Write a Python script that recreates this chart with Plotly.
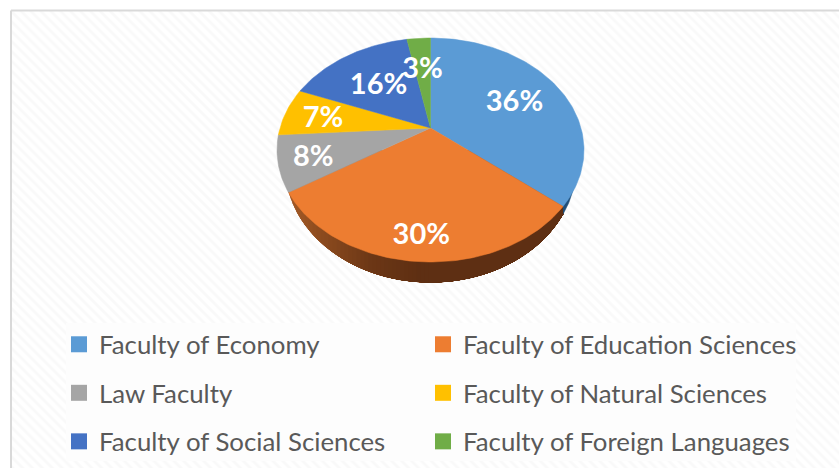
import numpy as np
import plotly.graph_objects as go

categories = ["Faculty of Economy", "Faculty of Education Sciences", "Law Faculty",
              "Faculty of Natural Sciences", "Faculty of Social Sciences", "Faculty of Foreign Languages"]
shares = [36, 30, 8, 7, 16, 3]
colors = ["#5b9bd5", "#ed7d31", "#a5a5a5", "#ffc000", "#4472c4", "#70ad47"]
label_radius = [0.65, 0.82, 0.78, 0.74, 0.59, 0.64]

W, H = 839, 468
CX, CY, RX, RY = 430.5, 150.0, 153.5, 112.0      # rim of the top face
APEX = 22.0                                       # perspective shift of the pie centre
K = APEX / RY
A = RX * np.sqrt(1 - K ** 2)
LX, LY, LRX, LRY = 430.5, 165.0, 146.0, 117.5     # lower rim
LABEL_DROP = 4.0                                  # baseline correction for the label font


def project(theta_deg, r=1.0):
    t = np.radians(theta_deg)
    u, v = r * np.sin(t), r * np.cos(t)
    d = 1 + K * v
    return CX + A * u / d, CY - (RY * v + APEX) / d


def lower_y(x):
    return LY + LRY * np.sqrt(np.clip(1 - ((x - LX) / LRX) ** 2, 0, 1))


fig = go.Figure()


def poly(xs, ys, fill, line="rgba(0,0,0,0)", lw=0.0, **kw):
    fig.add_trace(go.Scatter(x=list(xs), y=list(ys), mode="lines", fill="toself", fillcolor=fill,
                             line=dict(color=line, width=lw), showlegend=False, hoverinfo="skip", **kw))


# hatched panel
poly([11, W + 5, W + 5, 11, 11], [10.5, 10.5, H + 5, H + 5, 10.5], "#ffffff", "#d9d9d9", 2,
     fillpattern=dict(shape="\\", fgcolor="#f3f3f3", bgcolor="#ffffff", size=7, solidity=0.4))
# legend plate
poly([66, 796, 796, 66, 66], [323, 323, 461, 461, 323], "#fdfdfd")

cum = np.cumsum([0] + shares)
edge_x = project(cum[1] * 3.6)[0]

# side wall, shaded in strips painted left to right, each running on to the wall's end
ramp_x = [284, 320, 370, 420, 600]
ramp_r = [0xa6, 0x8c, 0x6c, 0x5e, 0x5e]
ramp_g = [0x5c, 0x4b, 0x37, 0x2f, 0x2f]
ramp_b = [0x28, 0x1f, 0x16, 0x13, 0x13]
for a in np.arange(LX - LRX, 430.0, 4.0):
    xs = np.linspace(a, edge_x, 90)
    c = "rgb(%d,%d,%d)" % (np.interp(a, ramp_x, ramp_r), np.interp(a, ramp_x, ramp_g), np.interp(a, ramp_x, ramp_b))
    poly(list(xs) + [edge_x, a], list(lower_y(xs)) + [CY, CY], c)
xs = np.linspace(edge_x, LX + LRX, 14)
poly(list(xs) + [xs[-1], xs[0]], list(lower_y(xs)) + [CY, CY], "#1f4e79", "#1f4e79", 0.5)

# top face
for i, s in enumerate(shares):
    th = np.linspace(cum[i], cum[i + 1], max(int(s * 3), 8)) * 3.6
    px, py = project(th)
    ax, ay = project(0, 0)
    poly([ax] + list(px) + [ax], [ay] + list(py) + [ay], colors[i], colors[i], 0.5)

# value labels
mids = [(cum[i] + cum[i + 1]) / 2 * 3.6 for i in range(len(shares))]
pts = [project(m, r) for m, r in zip(mids, label_radius)]
fig.add_trace(go.Scatter(x=[p[0] for p in pts], y=[p[1] + LABEL_DROP for p in pts], mode="text",
                         text=[f"{s}%" for s in shares], textposition="middle center",
                         textfont=dict(family="Lato", size=29, color="white", weight="bold"),
                         showlegend=False, hoverinfo="skip"))

# legend keys
for i, name in enumerate(categories):
    fig.add_trace(go.Scatter(x=[None], y=[None], mode="markers", name=name,
                             marker=dict(symbol="square", size=16, color=colors[i]),
                             legendgroup=name, legend="legend" if i % 2 == 0 else "legend2"))

leg = dict(orientation="v", yanchor="top", y=1 - 321 / H, bgcolor="rgba(0,0,0,0)",
           font=dict(family="Lato", size=25.8, color="#595959"), tracegroupgap=12, itemclick=False)
fig.update_layout(
    width=W, height=H, margin=dict(l=0, r=0, t=0, b=0, autoexpand=False), autosize=False,
    paper_bgcolor="white", plot_bgcolor="white",
    xaxis=dict(range=[0, W], visible=False, fixedrange=True),
    yaxis=dict(range=[H, 0], visible=False, fixedrange=True),
    legend=dict(leg, xanchor="left", x=59 / W),
    legend2=dict(leg, xanchor="left", x=423 / W),
)
fig.write_html("out.html", config=dict(displayModeBar=False),
               post_script="document.body.style.margin='0';")
